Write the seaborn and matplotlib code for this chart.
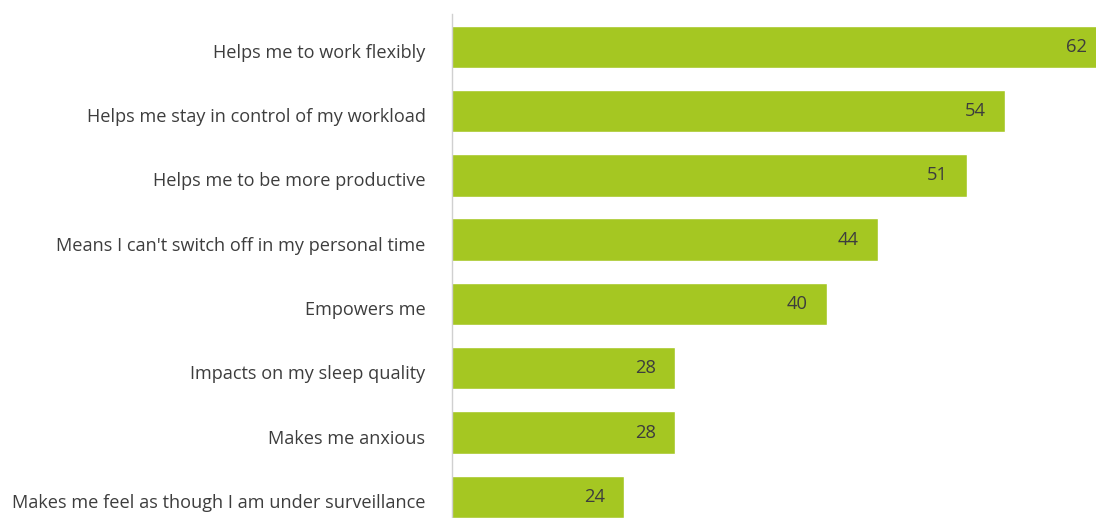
import matplotlib
matplotlib.use('Agg')
import matplotlib.pyplot as plt
import matplotlib.transforms as mtransforms
import seaborn as sns
import pandas as pd

labels = [
    'Helps me to work flexibly',
    'Helps me stay in control of my workload',
    'Helps me to be more productive',
    "Means I can't switch off in my personal time",
    'Empowers me',
    'Impacts on my sleep quality',
    'Makes me anxious',
    'Makes me feel as though I am under surveillance',
]
values = [62, 54, 51, 44, 40, 28, 28, 24]

bar_color = '#a5c722'
text_color = '#3d3d3d'

sns.set_style('white')
plt.rcParams['font.family'] = ['Open Sans', 'DejaVu Sans']

df = pd.DataFrame({'label': labels, 'value': values})

fig = plt.figure(figsize=(10.96, 5.18), dpi=100)
ax = fig.add_axes([452 / 1096, 0, 1 - 452 / 1096, 1 - 14 / 518])

sns.barplot(data=df, x='value', y='label', color=bar_color, width=0.66,
            saturation=1, ax=ax)

ax.set_xlim(10.4, 61.2)
ax.set_ylim(7.33, -0.51)

for i, v in enumerate(values):
    ax.text(v - 2.35, i, str(v), ha='center', va='center',
            fontsize=13.2, color=text_color)

ax.set_xlabel('')
ax.set_ylabel('')
ax.set_xticks([])
ax.tick_params(axis='y', length=0, pad=19, labelsize=13.1, labelcolor=text_color)

# category labels sit a little below the bar centre in the original
shift = mtransforms.ScaledTranslation(0, -4 / 100, fig.dpi_scale_trans)
for lab in ax.get_yticklabels():
    lab.set_transform(lab.get_transform() + shift)

for s in ['top', 'right', 'bottom']:
    ax.spines[s].set_visible(False)
ax.spines['left'].set_color('#d0d0d0')
ax.spines['left'].set_linewidth(1)

fig.savefig('out.png', dpi=100)
